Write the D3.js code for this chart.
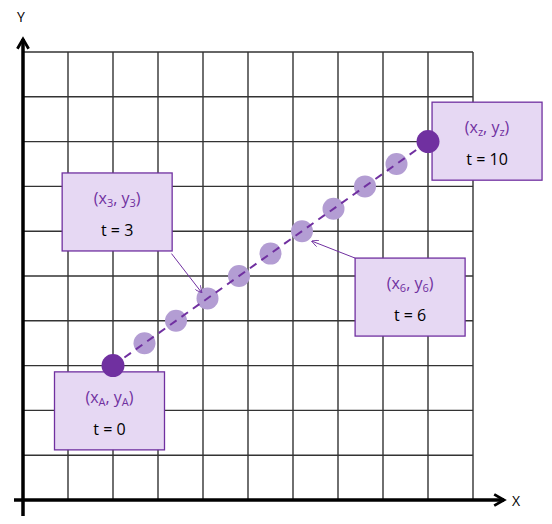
<!DOCTYPE html>
<html><head><meta charset="utf-8">
<script src="https://cdn.jsdelivr.net/npm/d3@7"></script>
<style>body{margin:0;background:#fff}text{font-family:"Open Sans",sans-serif}</style>
</head><body><div id="chart"></div>
<script>
const gridTicks = d3.range(0, 11);
const tValues = d3.range(0, 11);
const startPt = [2, 3];
const endPt = [9, 8];
// label boxes: t, subscript, box corner in data units
const labels = [
  {t: 0, sub: "A", bx: 0.7, by: 2.86},
  {t: 3, sub: "3", bx: 0.87, by: 7.3},
  {t: 6, sub: "6", bx: 7.38, by: 5.4},
  {t: 10, sub: "z", bx: 9.09, by: 8.88}
];
const arrows = [{t: 3, from: [3.3, 5.5]}, {t: 6, from: [7.38, 5.4]}];

const W = 552, H = 524;
const x = d3.scaleLinear().domain([0, 10]).range([23, 473]);
const y = d3.scaleLinear().domain([0, 10]).range([500, 52]);
const purple = "#7030A0";

const svg = d3.select("#chart").append("svg").attr("width", W).attr("height", H);
const defs = svg.append("defs");
defs.append("marker").attr("id", "ah").attr("viewBox", "0 0 10 10").attr("refX", 9).attr("refY", 5)
  .attr("markerWidth", 7).attr("markerHeight", 7).attr("orient", "auto")
  .append("path").attr("d", "M0,0L10,5L0,10").attr("fill", "none").attr("stroke", purple).attr("stroke-width", 1.2);
defs.append("marker").attr("id", "ax").attr("viewBox", "0 0 10 10").attr("refX", 8).attr("refY", 5)
  .attr("markerWidth", 4).attr("markerHeight", 4).attr("orient", "auto")
  .append("path").attr("d", "M1,1L8,5L1,9").attr("fill", "none").attr("stroke", "#000").attr("stroke-width", 2);

const grid = svg.append("g").attr("stroke", "#333").attr("stroke-width", 1.4);
grid.selectAll(".v").data(gridTicks.slice(1)).join("line")
  .attr("x1", d => x(d)).attr("x2", d => x(d)).attr("y1", y(10)).attr("y2", y(0));
grid.selectAll(".h").data(gridTicks.slice(0, 10)).join("line")
  .attr("y1", d => y(d + 1)).attr("y2", d => y(d + 1)).attr("x1", x(0)).attr("x2", x(10));

svg.append("line").attr("x1", 14).attr("x2", 504).attr("y1", y(0)).attr("y2", y(0))
  .attr("stroke", "#000").attr("stroke-width", 3.5).attr("marker-end", "url(#ax)");
svg.append("line").attr("x1", x(0)).attr("x2", x(0)).attr("y1", 516).attr("y2", 39)
  .attr("stroke", "#000").attr("stroke-width", 3.5).attr("marker-end", "url(#ax)");
svg.append("text").attr("x", 512).attr("y", 506).attr("font-size", 14).text("X");
svg.append("text").attr("x", 17).attr("y", 22).attr("font-size", 14).text("Y");

const pos = t => [startPt[0] + (endPt[0] - startPt[0]) * t / 10, startPt[1] + (endPt[1] - startPt[1]) * t / 10];

svg.selectAll(".dot").data(tValues.slice(1, 10)).join("circle")
  .attr("cx", d => x(pos(d)[0])).attr("cy", d => y(pos(d)[1])).attr("r", 11).attr("fill", "#B39DD3");
svg.append("line").attr("x1", x(startPt[0])).attr("y1", y(startPt[1])).attr("x2", x(endPt[0])).attr("y2", y(endPt[1]))
  .attr("stroke", purple).attr("stroke-width", 2).attr("stroke-dasharray", "8,6");

svg.selectAll(".arr").data(arrows).join("line")
  .attr("x1", d => x(d.from[0])).attr("y1", d => y(d.from[1]))
  .attr("x2", d => { const p = pos(d.t); return x(p[0]) + (d.t === 3 ? -6 : 10); })
  .attr("y2", d => { const p = pos(d.t); return y(p[1]) + (d.t === 3 ? -6 : 10); })
  .attr("stroke", purple).attr("stroke-width", 1).attr("marker-end", "url(#ah)");

const bw = 110, bh = 78;
const box = svg.selectAll(".box").data(labels).join("g")
  .attr("transform", d => `translate(${x(d.bx)},${y(d.by)})`);
box.append("rect").attr("width", bw).attr("height", bh).attr("fill", "#E6D8F3").attr("stroke", purple).attr("stroke-width", 1.3);
const co = box.append("text").attr("x", bw / 2).attr("y", 31).attr("text-anchor", "middle")
  .attr("font-size", 16).attr("fill", purple);
co.append("tspan").text("(x");
co.append("tspan").attr("font-size", 11).attr("dy", 3).text(d => d.sub);
co.append("tspan").attr("dy", -3).text(", y");
co.append("tspan").attr("font-size", 11).attr("dy", 3).text(d => d.sub);
co.append("tspan").attr("dy", -3).text(")");
box.append("text").attr("x", bw / 2).attr("y", 63).attr("text-anchor", "middle")
  .attr("font-size", 16).attr("fill", "#000").text(d => `t = ${d.t}`);

svg.selectAll(".end").data([startPt, endPt]).join("circle")
  .attr("cx", d => x(d[0])).attr("cy", d => y(d[1])).attr("r", 11.5).attr("fill", purple);
</script></body></html>
